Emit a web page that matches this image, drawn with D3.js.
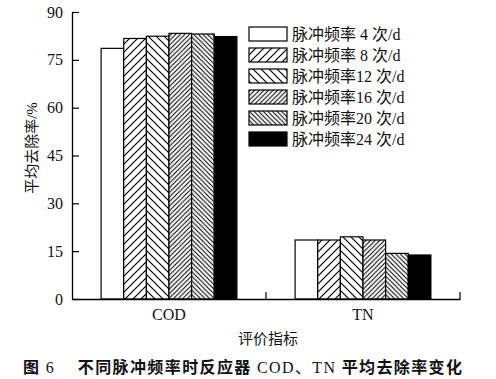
<!DOCTYPE html>
<html><head><meta charset="utf-8">
<script src="https://cdn.jsdelivr.net/npm/d3@7"></script>
<style>body{margin:0;background:#fff}</style>
</head><body>
<svg id="c" width="496" height="379"></svg>
<script>
const categories = ["COD", "TN"];
const seriesNames = ["脉冲频率 4 次/d", "脉冲频率 8 次/d", "脉冲频率12 次/d", "脉冲频率16 次/d", "脉冲频率20 次/d", "脉冲频率24 次/d"];
const codValues = [78.6, 81.7, 82.4, 83.3, 83.1, 82.3];
const tnValues = [18.5, 18.5, 19.5, 18.5, 14.3, 13.8];
const yTicks = [0, 15, 30, 45, 60, 75, 90];

const values = { COD: codValues, TN: tnValues };
const svg = d3.select("#c");
const font = "'Liberation Serif','Noto Sans CJK SC',serif";
const mLeft = 72, mRight = 460, mTop = 12, mBottom = 299;

// patterns
const defs = svg.append("defs");
function hatch(id, w, dir, sw) {
  const p = defs.append("pattern").attr("id", id).attr("patternUnits", "userSpaceOnUse")
    .attr("width", w).attr("height", w);
  p.append("rect").attr("width", w).attr("height", w).attr("fill", "#fff");
  const d = dir === "/"
    ? `M${-w/2},${w/2} L${w/2},${-w/2} M0,${w} L${w},0 M${w/2},${w*1.5} L${w*1.5},${w/2}`
    : `M${-w/2},${w/2} L${w/2},${w*1.5} M0,0 L${w},${w} M${w/2},${-w/2} L${w*1.5},${w/2}`;
  p.append("path").attr("d", d).attr("stroke", "#000").attr("stroke-width", sw);
}
hatch("p8", 8, "/", 1.2);
hatch("p12", 8, "\\", 1.2);
hatch("p16", 4.6, "/", 1.1);
hatch("p20", 4.6, "\\", 1.1);
const fills = ["#fff", "url(#p8)", "url(#p12)", "url(#p16)", "url(#p20)", "#000"];

const x0 = d3.scaleBand().domain(categories).range([mLeft, mRight]);
const x1 = d3.scaleBand().domain(d3.range(seriesNames.length))
  .range([x0.bandwidth() * 0.15, x0.bandwidth() * 0.85]);
const y = d3.scaleLinear().domain([0, 90]).range([mBottom, mTop]);

// bars
categories.forEach(c => {
  const g = svg.append("g").attr("transform", `translate(${x0(c)},0)`);
  g.selectAll("rect").data(values[c]).join("rect")
    .attr("x", (d, i) => x1(i)).attr("width", x1.bandwidth())
    .attr("y", d => y(d)).attr("height", d => y(0) - y(d))
    .attr("fill", (d, i) => fills[i]).attr("stroke", "#000").attr("stroke-width", 1.2);
});

// y axis
const ya = svg.append("g").attr("transform", `translate(${mLeft},0)`)
  .call(d3.axisLeft(y).tickValues(yTicks).tickSizeInner(-7).tickSizeOuter(0).tickPadding(9));
ya.select(".domain").attr("stroke-width", 1.3);
ya.selectAll("line").attr("stroke-width", 1.2);
ya.selectAll("text").attr("font-family", font).attr("font-size", 16).attr("fill", "#111");

// x axis
const xa = svg.append("g").attr("transform", `translate(0,${mBottom})`)
  .call(d3.axisBottom(x0).tickSize(0).tickPadding(10));
xa.select(".domain").attr("stroke-width", 1.3);
xa.selectAll("text").attr("font-family", font).attr("font-size", 16).attr("fill", "#111");
// category boundary ticks (inward)
svg.append("g").selectAll("line").data(categories).join("line")
  .attr("x1", c => x0(c) + x0.bandwidth()).attr("x2", c => x0(c) + x0.bandwidth())
  .attr("y1", mBottom).attr("y2", mBottom - 7).attr("stroke", "#000").attr("stroke-width", 1.2);

// legend
const lg = svg.append("g");
seriesNames.forEach((s, i) => {
  const yy = 27 + i * 21;
  lg.append("rect").attr("x", 249).attr("y", yy).attr("width", 38).attr("height", 14)
    .attr("fill", fills[i]).attr("stroke", "#000").attr("stroke-width", 1.2);
  lg.append("text").attr("x", 292).attr("y", yy + 12.5).text(s)
    .attr("font-family", font).attr("font-size", 16).attr("fill", "#111");
});

// axis titles
svg.append("text").attr("transform", "translate(37,148) rotate(-90)")
  .attr("text-anchor", "middle").attr("font-family", font).attr("font-size", 15).attr("fill", "#111")
  .text("平均去除率/%");
svg.append("text").attr("x", 268).attr("y", 344).attr("text-anchor", "middle")
  .attr("font-family", font).attr("font-size", 15).attr("fill", "#111").text("评价指标");

// caption
const cap = svg.append("text").attr("x", 23).attr("y", 373).attr("font-family", font).attr("font-size", 16)
  .attr("fill", "#111").attr("textLength", 439).attr("lengthAdjust", "spacing");
[["图 ", "bold"], ["6", "normal"], ["　 不同脉冲频率时反应器 ", "bold"], ["COD、TN", "normal"], [" 平均去除率变化", "bold"]]
  .forEach(([t, w]) => cap.append("tspan").attr("font-weight", w).text(t));
</script>
</body></html>
